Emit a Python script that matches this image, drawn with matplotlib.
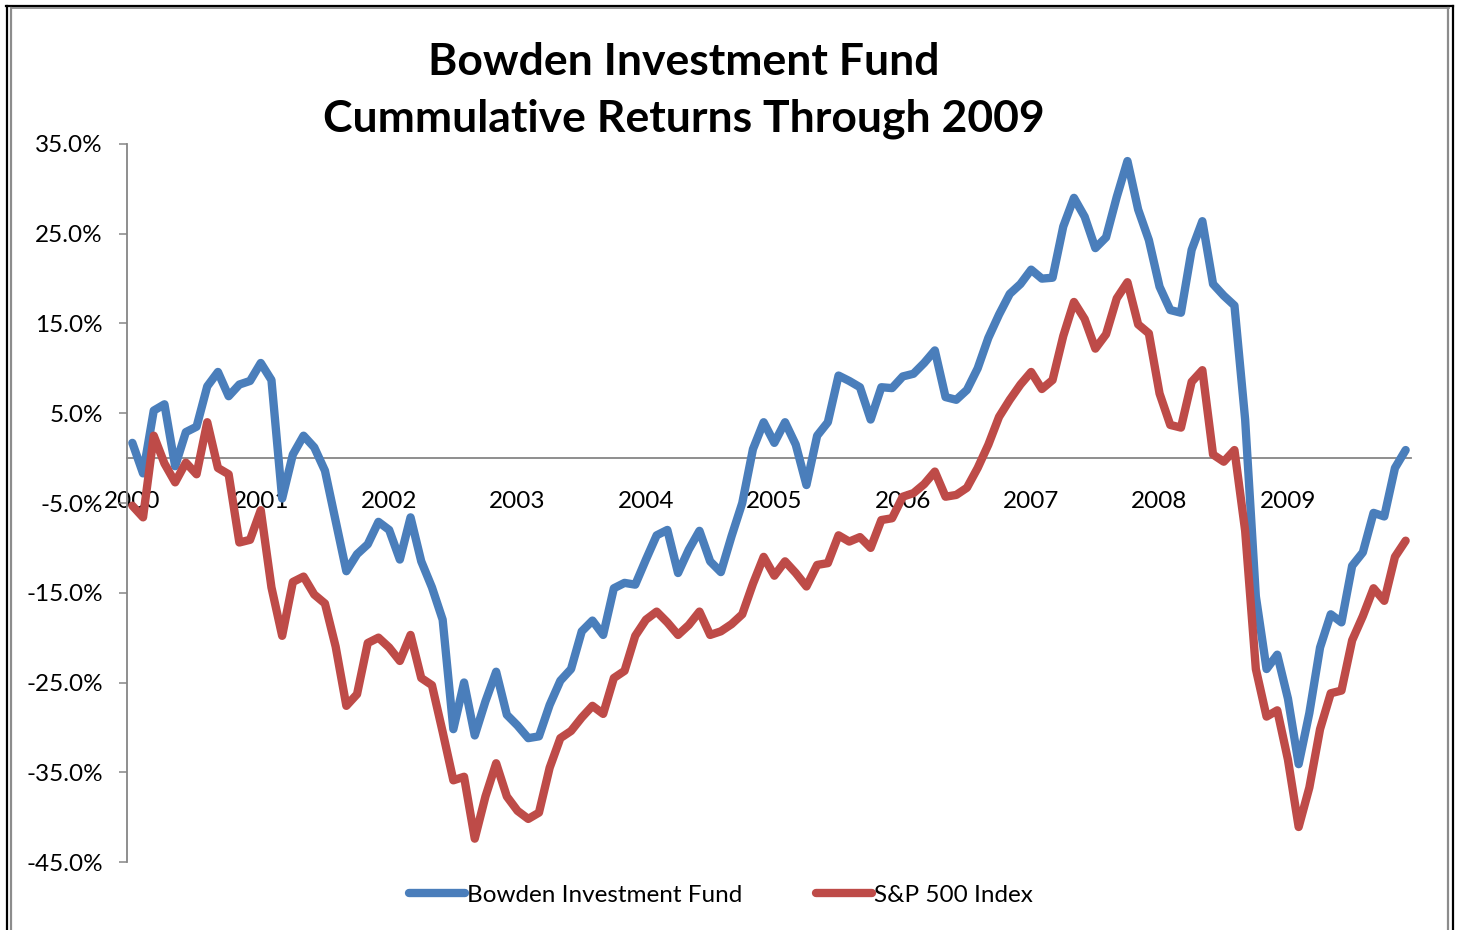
import matplotlib
matplotlib.use("Agg")
import matplotlib.pyplot as plt
from matplotlib.lines import Line2D
import numpy as np

plt.rcParams['font.family'] = ['Lato', 'DejaVu Sans']

title = "Bowden Investment Fund\nCummulative Returns Through 2009"
series_names = ["Bowden Investment Fund", "S&P 500 Index"]
year_labels = ["2000", "2001", "2002", "2003", "2004", "2005", "2006", "2007", "2008", "2009"]
y_ticks = [35, 25, 15, 5, -5, -15, -25, -35, -45]

# Monthly cumulative returns (%), Jan 2000 - Dec 2009
bowden = [1.7, -1.7, 5.3, 6.0, -0.9, 2.9, 3.5, 8.0, 9.6, 6.9, 8.2, 8.6,
          10.6, 8.7, -4.5, 0.4, 2.5, 1.2, -1.4, -7.0, -12.6, -10.7, -9.6, -7.1,
          -8.0, -11.3, -6.6, -11.5, -14.4, -18.0, -30.2, -25.0, -30.9, -27.1, -23.8, -28.6,
          -29.8, -31.2, -31.0, -27.5, -24.8, -23.5, -19.3, -18.1, -19.7, -14.5, -13.9, -14.1,
          -11.3, -8.6, -8.0, -12.8, -10.2, -8.1, -11.5, -12.7, -8.7, -5.0, 1.0, 4.0,
          1.7, 4.0, 1.5, -3.0, 2.5, 4.0, 9.2, 8.6, 7.9, 4.3, 7.9, 7.8,
          9.1, 9.4, 10.6, 12.0, 6.8, 6.5, 7.6, 10.0, 13.4, 16.0, 18.3, 19.4,
          21.0, 20.0, 20.1, 25.8, 29.0, 26.9, 23.4, 24.6, 29.1, 33.1, 27.7, 24.3,
          19.1, 16.5, 16.2, 23.2, 26.4, 19.4, 18.1, 17.0, 4.3, -15.4, -23.5, -21.9,
          -26.8, -34.1, -28.4, -21.1, -17.4, -18.3, -12.0, -10.5, -6.1, -6.5, -1.1, 0.9]

sp500 = [-5.3, -6.6, 2.5, -0.6, -2.7, -0.5, -1.8, 4.0, -1.1, -1.8, -9.4, -9.1,
         -5.8, -14.4, -19.8, -13.8, -13.2, -15.2, -16.2, -21.0, -27.6, -26.3, -20.6, -20.0,
         -21.1, -22.6, -19.7, -24.5, -25.3, -30.5, -35.9, -35.5, -42.4, -37.7, -34.0, -37.7,
         -39.3, -40.2, -39.5, -34.5, -31.2, -30.4, -28.9, -27.6, -28.5, -24.5, -23.7, -19.8,
         -18.0, -17.1, -18.3, -19.7, -18.6, -17.1, -19.7, -19.3, -18.5, -17.4, -14.0, -11.0,
         -13.1, -11.5, -12.8, -14.3, -11.9, -11.7, -8.6, -9.3, -8.8, -10.0, -6.9, -6.7,
         -4.3, -3.9, -2.9, -1.5, -4.3, -4.1, -3.3, -1.1, 1.5, 4.6, 6.5, 8.2,
         9.6, 7.7, 8.7, 13.6, 17.4, 15.5, 12.2, 13.8, 17.8, 19.6, 14.9, 13.9,
         7.2, 3.7, 3.4, 8.5, 9.8, 0.4, -0.4, 0.9, -8.1, -23.5, -28.8, -28.1,
         -33.6, -41.1, -36.7, -30.2, -26.2, -25.9, -20.3, -17.6, -14.5, -15.9, -11.0, -9.2]

W, H = 1458, 930
FS = 17.5
fig = plt.figure(figsize=(W / 100, H / 100), dpi=100)
fig.patch.set_facecolor('white')

ax = fig.add_axes([127 / W, 1 - 862 / H, (1411 - 127) / W, (862 - 144) / H])
x = np.arange(len(bowden))
kw = dict(lw=6.0, solid_joinstyle='round', solid_capstyle='round')
l1, = ax.plot(x, bowden, color='#4A7EBB', label=series_names[0], zorder=3, **kw)
l2, = ax.plot(x, sp500, color='#BE4B48', label=series_names[1], zorder=3, **kw)

gray = '#868686'
for s in ['top', 'right']:
    ax.spines[s].set_visible(False)
ax.spines['left'].set_color(gray)
ax.spines['left'].set_linewidth(1.3)
ax.spines['bottom'].set_position(('data', 0))
ax.spines['bottom'].set_color(gray)
ax.spines['bottom'].set_linewidth(1.3)

ax.set_xlim(-0.5, len(bowden) - 0.5)
ax.set_ylim(-45, 35)
ax.set_yticks(y_ticks)
ax.set_yticklabels([f"{v:.1f}%" for v in y_ticks])
ax.set_xticks(np.arange(0, len(bowden), 12))
ax.set_xticklabels(year_labels)
ax.tick_params(axis='y', direction='out', length=5.5, width=1.1, color=gray, pad=12,
               labelsize=FS)
ax.tick_params(axis='x', length=0, pad=24, labelsize=FS)

fig.text(684 / W, 1 - 90.5 / H, title, ha='center', va='center', fontsize=32,
         fontweight='bold', linespacing=1.5)

fig.legend(handles=[l1, l2], loc='center', bbox_to_anchor=(721 / W, 1 - 895 / H),
           ncol=2, frameon=False, fontsize=FS, handlelength=2.3, handletextpad=0.1,
           columnspacing=3.0)

# chart frame
def vline(xp, y0, y1, c, lw):
    fig.add_artist(Line2D([xp / W, xp / W], [1 - y0 / H, 1 - y1 / H], color=c, lw=lw))

def hline(y, x0, x1, c, lw):
    fig.add_artist(Line2D([x0 / W, x1 / W], [1 - y / H, 1 - y / H], color=c, lw=lw))

hline(6.5, 6, 1453, 'black', 1.6)
vline(7, 6, 930, 'black', 1.6)
vline(1452.5, 6, 930, 'black', 1.6)
hline(8.5, 11, 1449, '#8c8c8c', 1.3)
vline(11.5, 8, 930, '#8c8c8c', 1.6)
vline(1448, 8, 930, '#8c8c8c', 1.6)

fig.savefig('out.png', dpi=100, facecolor='white')
